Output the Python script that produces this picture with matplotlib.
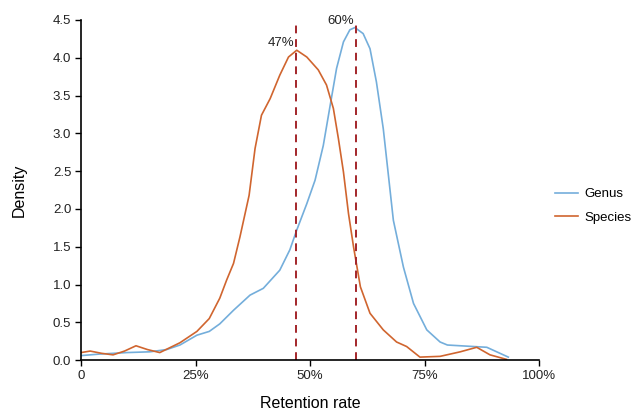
import matplotlib
matplotlib.use("Agg")
import matplotlib.pyplot as plt

plt.rcParams['font.family'] = ['Liberation Sans', 'DejaVu Sans']

# density curves
genus_x = [0.0, 0.04, 0.10, 0.15, 0.187, 0.216, 0.253, 0.28, 0.303, 0.333, 0.369, 0.398,
           0.434, 0.456, 0.471, 0.493, 0.511, 0.529, 0.544, 0.558, 0.573, 0.587, 0.598,
           0.616, 0.631, 0.645, 0.660, 0.672, 0.682, 0.704, 0.726, 0.755, 0.784, 0.80,
           0.857, 0.886, 0.933]
genus_y = [0.06, 0.08, 0.10, 0.11, 0.14, 0.20, 0.33, 0.38, 0.48, 0.66, 0.86, 0.95,
           1.19, 1.46, 1.72, 2.07, 2.38, 2.84, 3.37, 3.86, 4.21, 4.37, 4.40,
           4.32, 4.12, 3.68, 3.06, 2.40, 1.85, 1.23, 0.75, 0.40, 0.24, 0.20,
           0.18, 0.17, 0.04]

species_x = [0.0, 0.02, 0.045, 0.07, 0.095, 0.12, 0.145, 0.172, 0.216, 0.253, 0.28, 0.303,
             0.318, 0.333, 0.347, 0.367, 0.380, 0.394, 0.413, 0.434, 0.453, 0.471, 0.493,
             0.518, 0.536, 0.551, 0.562, 0.573, 0.584, 0.595, 0.61, 0.631, 0.66, 0.689,
             0.711, 0.740, 0.784, 0.828, 0.864, 0.893, 0.929]
species_y = [0.10, 0.12, 0.09, 0.07, 0.12, 0.19, 0.14, 0.10, 0.23, 0.38, 0.55, 0.82,
             1.06, 1.28, 1.63, 2.18, 2.80, 3.24, 3.46, 3.77, 4.01, 4.10, 4.01,
             3.84, 3.64, 3.33, 2.93, 2.49, 1.94, 1.50, 0.97, 0.62, 0.40, 0.24,
             0.18, 0.04, 0.05, 0.11, 0.17, 0.07, 0.01]

peaks = [0.47, 0.60]
peak_labels = ['47%', '60%']
peak_heights = [4.10, 4.40]

xticks = [0, 0.25, 0.5, 0.75, 1.0]
xtick_labels = ['0', '25%', '50%', '75%', '100%']

blue = '#74aedb'
orange = '#d0652f'
red = '#a3262a'

fig = plt.figure(figsize=(6.33, 4.13), dpi=100)
ax = fig.add_axes([0.128, 0.128, 0.7235, 0.8236])

ax.plot(genus_x, genus_y, color=blue, lw=1.2, label='Genus')
ax.plot(species_x, species_y, color=orange, lw=1.2, label='Species')

for p, lab, h in zip(peaks, peak_labels, peak_heights):
    ax.axvline(p, color=red, lw=1.4, ls=(0, (4, 3)))
    ax.text(p - 0.004, h + 0.05, lab, ha='right', va='baseline', fontsize=9.5, color='#222222')

ax.set_xlim(0, 1.0)
ax.set_ylim(0, 4.5)
ax.set_xticks(xticks)
ax.set_xticklabels(xtick_labels)
ax.set_yticks([i * 0.5 for i in range(10)])
ax.set_yticklabels(['%.1f' % (i * 0.5) for i in range(10)])

for s in ['top', 'right']:
    ax.spines[s].set_visible(False)
for s in ['left', 'bottom']:
    ax.spines[s].set_linewidth(1.2)
ax.tick_params(direction='out', length=4, width=1, labelsize=9.5, colors='black',
               labelcolor='#222222', pad=3)

ax.set_xlabel('Retention rate', fontsize=11.5, va='center')
ax.xaxis.set_label_coords(0.5, -0.128)
ax.set_ylabel('Density', fontsize=11.5, va='center')
ax.yaxis.set_label_coords(-0.135, 0.5)

ax.legend(loc='center left', bbox_to_anchor=(1.035, 0.453), frameon=False, fontsize=9.5,
          handlelength=1.75, handletextpad=0.5, labelspacing=0.85,
          borderaxespad=0, borderpad=0)

fig.savefig('out.png', dpi=100)
